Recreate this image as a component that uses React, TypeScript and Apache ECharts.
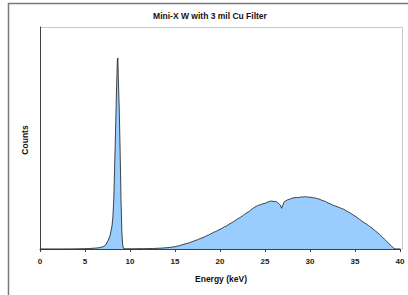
import React, { useEffect, useRef } from "react";
import * as echarts from "echarts";

// Energy (keV) and counts
const energies: number[] = [
  0, 1, 2, 3, 4, 5.0, 5.5, 6.0, 6.5, 7.0, 7.3, 7.6, 7.8, 8.0, 8.1, 8.2, 8.3, 8.4, 8.5, 8.6, 8.65, 8.7, 8.8, 8.9, 9.0, 9.1, 9.2, 9.3, 9.5,
  10.0, 10.5, 11.0, 11.5, 12.0, 12.5, 13.0, 13.5, 14.0, 14.5, 15.0, 15.5, 16.0, 16.5, 17.0, 17.5, 18.0, 18.25, 18.5, 18.75, 19.0, 19.25, 19.5, 19.75,
  20.0, 20.25, 20.5, 20.75, 21.0, 21.25, 21.5, 21.75, 22.0, 22.25, 22.5, 22.75, 23.0, 23.25, 23.5, 23.75, 24.0, 24.25, 24.5, 24.75,
  25.0, 25.25, 25.5, 25.75, 26.0, 26.2, 26.4, 26.55, 26.7, 26.85, 27.0, 27.15, 27.3, 27.5, 27.75, 28.0, 28.25, 28.5, 28.75, 29.0, 29.25, 29.5, 29.75,
  30.0, 30.25, 30.5, 30.75, 31.0, 31.25, 31.5, 31.75, 32.0, 32.25, 32.5, 32.75, 33.0, 33.25, 33.5, 33.75, 34.0, 34.25, 34.5, 34.75,
  35.0, 35.25, 35.5, 35.75, 36.0, 36.25, 36.5, 36.75, 37.0, 37.25, 37.5, 37.75, 38.0, 38.25, 38.5, 38.75, 39.0, 39.3, 39.5, 40.0,
];

const counts: number[] = [
  0, 0, 0, 0, 5, 15, 25, 40, 60, 110, 200, 450, 700, 1150, 1600, 2500, 4250, 6000, 8000, 9500, 9550, 8600, 7100, 5000, 2500, 800, 150, 25, 10,
  10, 10, 15, 15, 20, 25, 35, 45, 60, 85, 115, 170, 240, 300, 380, 465, 560, 600, 660, 700, 760, 830, 870, 930,
  985, 1040, 1115, 1160, 1240, 1300, 1370, 1440, 1515, 1580, 1660, 1740, 1820, 1880, 1980, 2060, 2130, 2180, 2220, 2260,
  2285, 2340, 2380, 2400, 2370, 2380, 2320, 2260, 2200, 2035, 2225, 2365, 2400, 2460, 2490, 2545, 2560, 2580, 2570, 2605, 2600, 2620, 2590,
  2595, 2570, 2555, 2530, 2500, 2450, 2410, 2370, 2300, 2260, 2200, 2160, 2115, 2080, 2025, 1990, 1915, 1850, 1790, 1720,
  1645, 1570, 1485, 1400, 1325, 1250, 1175, 1090, 1000, 910, 820, 720, 615, 500, 390, 280, 175, 40, 0, 0,
];

const xTicks = { min: 0, max: 40, interval: 5 };
const yMax = 11100;

const title = "Mini-X W with 3 mil Cu Filter";
const xName = "Energy (keV)";
const yName = "Counts";

export default function App() {
  const ref = useRef<HTMLDivElement>(null);
  useEffect(() => {
    if (!ref.current) return;
    const chart = echarts.init(ref.current, null, { renderer: "svg" });
    const data = energies.map((e, i) => [e, counts[i]]);
    const font = "Liberation Sans, Arial, sans-serif";
    chart.setOption({
      animation: false,
      backgroundColor: "#ffffff",
      grid: { left: 40, top: 27, width: 360, height: 222, containLabel: false },
      xAxis: {
        type: "value",
        min: xTicks.min,
        max: xTicks.max,
        interval: xTicks.interval,
        axisLine: { show: true, lineStyle: { color: "#404040", width: 1 } },
        axisTick: { show: true, length: 3, lineStyle: { color: "#404040" } },
        axisLabel: { color: "#222", fontSize: 8, fontWeight: "bold", fontFamily: font, margin: 8 },
        splitLine: { show: false },
      },
      yAxis: {
        type: "value",
        min: 0,
        max: yMax,
        axisLine: { show: true, lineStyle: { color: "#404040", width: 1 } },
        axisTick: { show: false },
        axisLabel: { show: false },
        splitLine: { show: false },
      },
      series: [
        {
          type: "line",
          data,
          showSymbol: false,
          symbol: "none",
          lineStyle: { color: "#1a1a1a", width: 0.8 },
          areaStyle: { color: "#99ccff", opacity: 1 },
          z: 2,
        },
      ],
      graphic: [
        {
          type: "rect",
          shape: { x: 8.5, y: 3.5, width: 420, height: 320 },
          style: { fill: "none", stroke: "#7a7a7a", lineWidth: 1.5 },
          silent: true,
          z: 0,
        },
        {
          type: "rect",
          shape: { x: 40.5, y: 27.5, width: 362, height: 221.5 },
          style: { fill: "none", stroke: "#c8c8c8", lineWidth: 1 },
          silent: true,
          z: 0,
        },
        {
          type: "text",
          x: 210,
          y: 16,
          style: {
            text: title,
            fill: "#111",
            font: `bold 8.5px ${font}`,
            textAlign: "center",
            textVerticalAlign: "middle",
          },
        },
        {
          type: "text",
          x: 221,
          y: 279,
          style: {
            text: xName,
            fill: "#111",
            font: `bold 8.5px ${font}`,
            textAlign: "center",
            textVerticalAlign: "middle",
          },
        },
        {
          type: "text",
          x: 25,
          y: 140,
          rotation: Math.PI / 2,
          style: {
            text: yName,
            fill: "#111",
            font: `bold 8.5px ${font}`,
            textAlign: "center",
            textVerticalAlign: "middle",
          },
        },
      ],
    });
    return () => chart.dispose();
  }, []);
  return (
    <div
      ref={ref}
      style={{ position: "fixed", left: 0, top: 0, width: 408, height: 295 }}
    />
  );
}
